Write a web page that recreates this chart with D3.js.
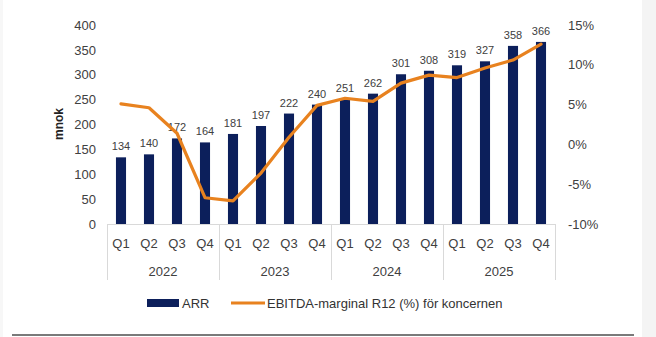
<!DOCTYPE html>
<html>
<head>
<meta charset="utf-8">
<script src="https://cdn.jsdelivr.net/npm/d3@7"></script>
<style>
  html, body { margin: 0; padding: 0; background: #ffffff; }
  svg { display: block; font-family: "Liberation Sans", Arial, sans-serif; }
</style>
</head>
<body>
<div id="chart"></div>
<script>
// data
const years = ['2022', '2023', '2024', '2025'];
const quarters = ['Q1', 'Q2', 'Q3', 'Q4'];
const arr = [134, 140, 172, 164, 181, 197, 222, 240, 251, 262, 301, 308, 319, 327, 358, 366];
const ebitda = [5.1, 4.6, 1.4, -6.7, -7.1, -3.6, 0.9, 4.9, 5.8, 5.4, 7.7, 8.7, 8.4, 9.6, 10.6, 12.6];
const leftTicks = [0, 50, 100, 150, 200, 250, 300, 350, 400];
const rightTicks = [-10, -5, 0, 5, 10, 15];

const W = 656, H = 337;
const BAR = '#0c1f5b', LINE = '#e8821f', TXT = '#404040';

const cats = [];
years.forEach(function (y) { quarters.forEach(function (q) { cats.push(y + ' ' + q); }); });

const svg = d3.select('#chart').append('svg')
  .attr('width', W)
  .attr('height', H);

// page frame bits
svg.append('rect').attr('x', 642).attr('y', 0).attr('width', W - 642).attr('height', H).attr('fill', '#f4f4f4');
svg.append('rect').attr('x', 0).attr('y', 0).attr('width', 3).attr('height', H).attr('fill', '#f7f7f7');
svg.append('line').attr('x1', 12).attr('x2', 634).attr('y1', 335).attr('y2', 335)
  .attr('stroke', '#7a7a7a').attr('stroke-width', 2);

const x = d3.scaleBand().domain(cats).range([107, 555]).paddingInner(0.64).paddingOuter(0.32);
const yL = d3.scaleLinear().domain([0, 400]).range([224, 25]);
const yR = d3.scaleLinear().domain([-10, 15]).range([224, 25]);

// left axis
const axL = svg.append('g').attr('transform', 'translate(96,0)')
  .call(d3.axisLeft(yL).tickValues(leftTicks).tickSize(0).tickPadding(0));
axL.select('.domain').remove();
axL.selectAll('text').attr('font-size', 13).attr('fill', TXT).attr('font-family', 'Liberation Sans, Arial, sans-serif');

// right axis
const axR = svg.append('g').attr('transform', 'translate(568,0)')
  .call(d3.axisRight(yR).tickValues(rightTicks).tickSize(0).tickPadding(0).tickFormat(function (d) { return d + '%'; }));
axR.select('.domain').remove();
axR.selectAll('text').attr('font-size', 13).attr('fill', TXT).attr('font-family', 'Liberation Sans, Arial, sans-serif');

// y title
svg.append('text')
  .attr('transform', 'translate(63,124) rotate(-90)')
  .attr('text-anchor', 'middle')
  .attr('font-size', 12).attr('font-weight', 'bold').attr('fill', '#222')
  .text('mnok');

// bars
svg.append('g').selectAll('rect').data(arr).enter().append('rect')
  .attr('x', function (d, i) { return x(cats[i]); })
  .attr('y', function (d) { return yL(d); })
  .attr('width', x.bandwidth())
  .attr('height', function (d) { return yL(0) - yL(d); })
  .attr('fill', BAR);

// bar labels
svg.append('g').selectAll('text').data(arr).enter().append('text')
  .attr('x', function (d, i) { return x(cats[i]) + x.bandwidth() / 2; })
  .attr('y', function (d) { return yL(d) - 7; })
  .attr('text-anchor', 'middle')
  .attr('font-size', 11).attr('fill', TXT)
  .text(function (d) { return d; });

// category axis
const x0 = x.range()[0], step = x.step();
const catAxis = svg.append('g');
catAxis.append('line').attr('x1', x0).attr('x2', x.range()[1]).attr('y1', 224.5).attr('y2', 224.5)
  .attr('stroke', '#d9d9d9');
d3.range(years.length + 1).forEach(function (k) {
  const xx = Math.round(x0 + k * 4 * step) + 0.5;
  catAxis.append('line').attr('x1', xx).attr('x2', xx).attr('y1', 224).attr('y2', 280)
    .attr('stroke', '#d9d9d9');
});
catAxis.selectAll('text.q').data(cats).enter().append('text')
  .attr('class', 'q')
  .attr('x', function (d) { return x(d) + x.bandwidth() / 2; })
  .attr('y', 248)
  .attr('text-anchor', 'middle')
  .attr('font-size', 13).attr('fill', TXT)
  .text(function (d) { return d.split(' ')[1]; });
catAxis.selectAll('text.y').data(years).enter().append('text')
  .attr('class', 'y')
  .attr('x', function (d, k) { return x0 + (k * 4 + 2) * step; })
  .attr('y', 276)
  .attr('text-anchor', 'middle')
  .attr('font-size', 13).attr('fill', TXT)
  .text(function (d) { return d; });

// line
const line = d3.line()
  .x(function (d, i) { return x(cats[i]) + x.bandwidth() / 2; })
  .y(function (d) { return yR(d); });
svg.append('path').datum(ebitda)
  .attr('d', line)
  .attr('fill', 'none')
  .attr('stroke', LINE)
  .attr('stroke-width', 3.2)
  .attr('stroke-linejoin', 'round')
  .attr('stroke-linecap', 'round');

// legend
const lg = svg.append('g');
lg.append('rect').attr('x', 147).attr('y', 299).attr('width', 32).attr('height', 8).attr('fill', BAR);
lg.append('text').attr('x', 182).attr('y', 308).attr('font-size', 13).attr('fill', '#333').text('ARR');
lg.append('line').attr('x1', 231).attr('x2', 265).attr('y1', 303).attr('y2', 303)
  .attr('stroke', LINE).attr('stroke-width', 3);
lg.append('text').attr('x', 267).attr('y', 308).attr('font-size', 13).attr('fill', '#333')
  .text('EBITDA-marginal R12 (%) för koncernen');
</script>
</body>
</html>
